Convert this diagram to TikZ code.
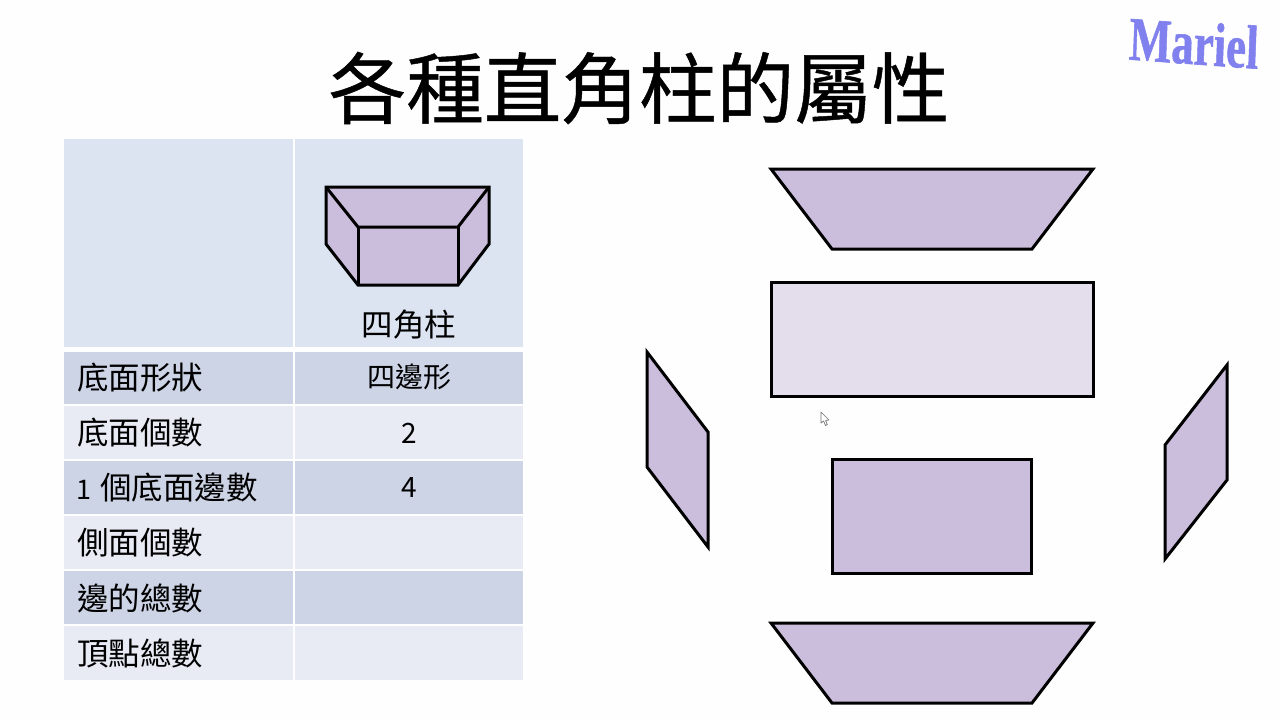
\documentclass[tikz,border=0pt]{standalone}
\usepackage{fontspec}
\setmainfont{Noto Sans CJK TC}
\newfontfamily\titlefont[FakeBold=0.6]{Noto Sans CJK TC}
\newfontfamily\logofont[FakeBold=1]{Liberation Serif}
\definecolor{headcell}{HTML}{DCE3F1}
\definecolor{darkcell}{HTML}{CDD4E6}
\definecolor{lightcell}{HTML}{E8EAF4}
\definecolor{facefill}{HTML}{CBBDDC}
\definecolor{facelight}{HTML}{E4DDEC}
\definecolor{logoblue}{HTML}{8080EE}
\tikzset{
  lbl/.style={font=\fontsize{31.5}{31}\selectfont,text=black,inner sep=0pt,anchor=west},
  val/.style={font=\fontsize{28}{28}\selectfont,text=black,inner sep=0pt,anchor=center},
  face/.style={draw=black,line width=3pt,fill=facefill,line join=miter},
  facepale/.style={face,fill=facelight},
  edgeline/.style={draw=black,line width=3pt,line join=miter}
}
\begin{document}
\begin{tikzpicture}[x=1pt,y=-1pt]
\useasboundingbox (0,0) rectangle (1280,720);
\fill[white!99.5!black] (0,0) rectangle (1280,720);
% title
\node[inner sep=0pt,font=\titlefont\fontsize{77.6}{77}\selectfont] (title) at (639,88) {各種直角柱的屬性};
% logo
\node[inner sep=0pt,text=logoblue,font=\logofont\bfseries\fontsize{40}{40}\selectfont,xscale=1.12,yscale=1.55,rotate=-3] (logo) at (1194,43) {Mariel};
% table
\foreach \xa/\xb in {64/293,295/523}{
  \fill[headcell] (\xa,139) rectangle (\xb,347);
  \fill[darkcell] (\xa,352) rectangle (\xb,404);
  \fill[lightcell] (\xa,406) rectangle (\xb,459);
  \fill[darkcell] (\xa,461) rectangle (\xb,514);
  \fill[lightcell] (\xa,516) rectangle (\xb,569);
  \fill[darkcell] (\xa,571) rectangle (\xb,624);
  \fill[lightcell] (\xa,626) rectangle (\xb,680);
}
\node[lbl] (r1) at (77,378) {底面形狀};
\node[lbl] (r2) at (77,433) {底面個數};
\node[lbl] (r3) at (76,488) {{\fontsize{27}{27}\selectfont 1}\hspace{9pt}個底面邊數};
\node[lbl] (r4) at (77,543) {側面個數};
\node[lbl] (r5) at (77,598) {邊的總數};
\node[lbl] (r6) at (77,653) {頂點總數};
\node[val] (v0) at (409,325) {\fontsize{31.5}{31}\selectfont 四角柱};
\node[val] (v1) at (409,377) {四邊形};
\node[val] (v2) at (409,433) {2};
\node[val] (v3) at (409,488) {4};
% small prism
\draw[face] (326,187) -- (489,187) -- (489,244) -- (458,285) -- (358,285) -- (326,244) -- cycle;
\draw[edgeline] (326,187) -- (358,227) -- (458,227) -- (489,187);
\draw[edgeline] (358,227) -- (358,285);
\draw[edgeline] (458,227) -- (458,285);
% net
\draw[face] (771,169) -- (1093,169) -- (1032,249) -- (832,249) -- cycle;
\draw[facepale] (771,282) rectangle (1093,396);
\draw[face] (647,352) -- (708,432) -- (708,547) -- (647,467) -- cycle;
\draw[face] (1227,365) -- (1227,480) -- (1165,559) -- (1165,445) -- cycle;
\draw[face] (832,459) rectangle (1031,573);
\draw[face] (771,623) -- (1093,623) -- (1032,703) -- (832,703) -- cycle;
% cursor
\draw[draw=black!55,fill=white,line width=0.7pt,line join=round] (821,412) -- (821,423) -- (823.6,421) -- (825.5,425.5) -- (827.3,424.6) -- (825.6,420.4) -- (829,420) -- cycle;
\end{tikzpicture}
\end{document}
